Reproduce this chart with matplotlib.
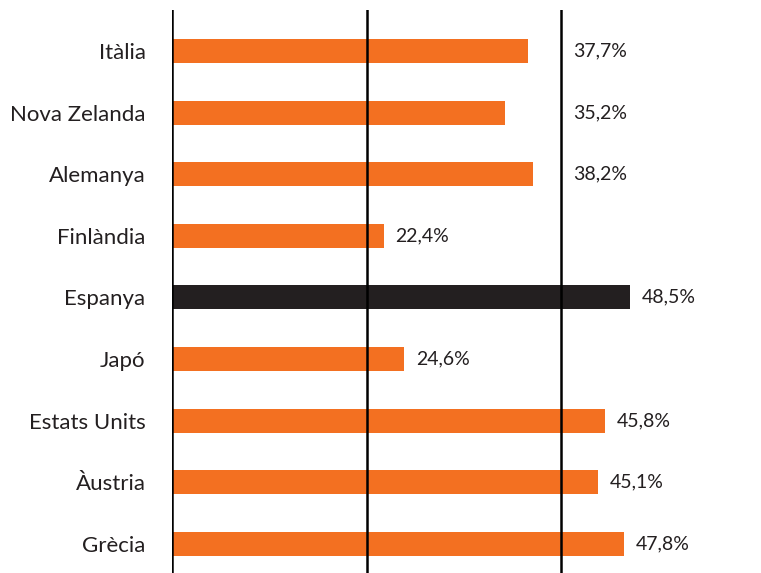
import matplotlib.pyplot as plt

## data
countries = ["Itàlia", "Nova Zelanda", "Alemanya", "Finlàndia", "Espanya",
             "Japó", "Estats Units", "Àustria", "Grècia"]
values = [37.7, 35.2, 38.2, 22.4, 48.5, 24.6, 45.8, 45.1, 47.8]
highlight = "Espanya"

## style
orange = "#F37021"
dark = "#231F20"
plt.rcParams['font.family'] = ['Lato', 'DejaVu Sans']

fig = plt.figure(figsize=(7.61, 5.73), dpi=100)
ax = fig.add_axes([172 / 761, 0, 1 - 172 / 761, 563 / 573])

colors = [dark if c == highlight else orange for c in countries]
pos = list(range(len(countries)))
ax.barh(pos, values, height=0.39, color=colors, zorder=2)

# vertical reference lines
grid = [0, 20.6, 41.2]
for g in grid:
    ax.axvline(g, color="black", lw=1.8, zorder=3)

# value labels, pushed past the line when they would cross it
for p, v in zip(pos, values):
    x = v + 1.25
    if v < grid[2] and x + 5.6 > grid[2]:
        x = grid[2] + 1.3
    ax.text(x, p, f"{v:.1f}%".replace(".", ","), va="center", ha="left",
            fontsize=14, color=dark)

ax.set_xlim(0, 62.35)
ax.set_ylim(8.476, -0.666)
ax.set_yticks(pos)
ax.set_yticklabels(countries, fontsize=16, color=dark)
ax.tick_params(axis="y", length=0, pad=19)
ax.set_xticks([])
for s in ax.spines.values():
    s.set_visible(False)

plt.savefig("out.png", dpi=100)
plt.close()
